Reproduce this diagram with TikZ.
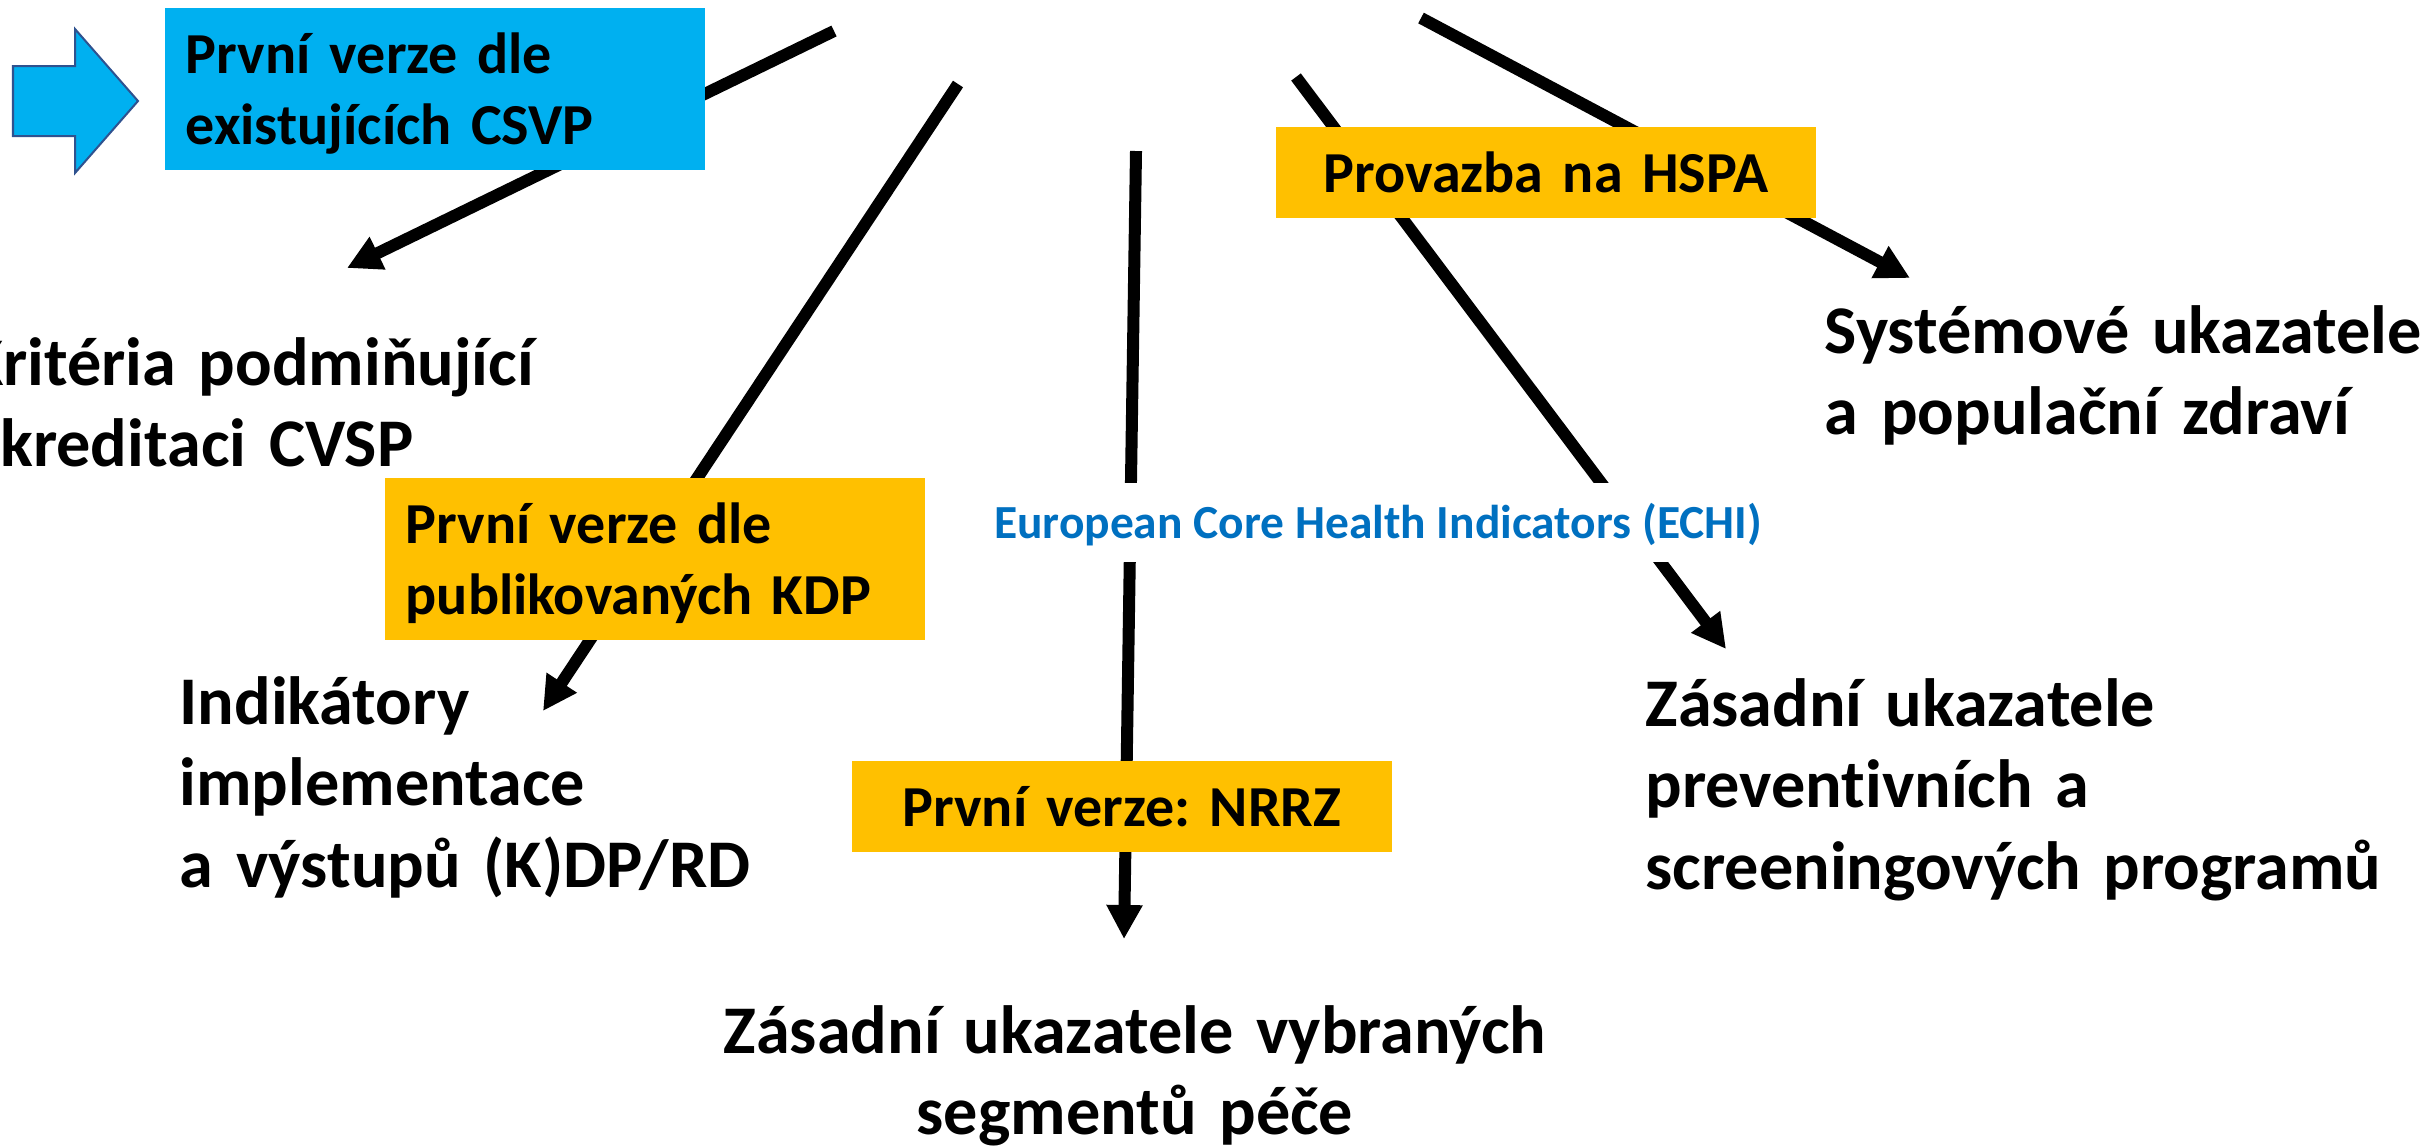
\documentclass[tikz,border=0pt]{standalone}
\usepackage{fontspec}
\setmainfont{Carlito}[Ligatures={NoCommon,NoContextual}, Contextuals=NoAlternate]
\usetikzlibrary{arrows.meta}
\frenchspacing

\definecolor{boxcyan}{RGB}{0,176,240}
\definecolor{boxyellow}{RGB}{255,192,0}
\definecolor{echiblue}{RGB}{0,112,192}
\definecolor{arrowrim}{RGB}{47,82,143}

\begin{document}
\begin{tikzpicture}[
    x=0.01cm, y=-0.01cm,
    connector/.style={
        line width=0.12cm,
        -{Triangle[length=0.34cm, width=0.34cm]},
    },
    heading/.style={
        anchor=base west,
        inner sep=0pt,
        text width=8cm,
        align=left,
        font=\fontsize{19.4}{23.3}\selectfont\bfseries,
    },
    tag/.style={
        anchor=base west,
        inner xsep=0.21cm,
        inner ysep=0pt,
        text width=4.98cm,
        text height=0.65cm,
        font=\fontsize{16.5}{20.2}\selectfont\bfseries,
    },
    twoline/.style={text depth=0.97cm, align=left},
    oneline/.style={text depth=0.26cm, align=center},
    echi/.style={
        anchor=base,
        fill=white,
        inner xsep=0.1cm,
        inner ysep=0pt,
        text height=0.55cm,
        text depth=0.24cm,
        text=echiblue,
        font=\fontsize{13.5}{16}\selectfont\bfseries,
    }
]
    \useasboundingbox (0,0) rectangle (2428,1147);
    \clip (0,0) rectangle (2428,1147);

    % Blue block arrow
    \draw[fill=boxcyan, draw=arrowrim, line width=0.02cm]
        (13,66) -- (75,66) -- (75,29) -- (138,101) -- (75,173) -- (75,136) -- (13,136) -- cycle;

    % Connector ends
    \coordinate (kritfrom) at (834,31);
    \coordinate (kritto) at (347,268);
    \coordinate (indikfrom) at (958,84);
    \coordinate (indikto) at (543,711);
    \coordinate (segmfrom) at (1136,151);
    \coordinate (segmto) at (1124,939);
    \coordinate (prevfrom) at (1296,77);
    \coordinate (prevto) at (1726,649);
    \coordinate (systfrom) at (1421,18);
    \coordinate (systto) at (1910,278);

    % Connectors
    \draw[connector] (kritfrom) -- (kritto);
    \draw[connector] (indikfrom) -- (indikto);
    \draw[connector] (segmfrom) -- (segmto);
    \draw[connector] (prevfrom) -- (prevto);
    \draw[connector] (systfrom) -- (systto);

    % ECHI label
    \node[echi] (echilabel) at (1378,538) {European Core Health Indicators (ECHI)};

    % Tags
    \node[tag, twoline, fill=boxcyan] (csvptag) at (164,73) {První verze dle\\existujících CSVP};
    \node[tag, twoline, fill=boxyellow] (kdptag) at (384,543) {První verze dle\\publikovaných KDP};
    \node[tag, oneline, fill=boxyellow] (hspatag) at (1275,192) {Provazba na HSPA};
    \node[tag, oneline, fill=boxyellow] (nrrztag) at (851,826) {První verze: NRRZ};

    % Indicator groups
    \node[heading] (krit) at (-34,385) {Kritéria podmiňující\\akreditaci CVSP};
    \node[heading] (indik) at (179,724) {Indikátory\\implementace\\a výstupů (K)DP/RD};
    \node[heading] (syst) at (1824,353) {Systémové ukazatele\\a populační zdraví};
    \node[heading] (prev) at (1645,726) {Zásadní ukazatele\\preventivních a\\screeningových programů};
    \node[heading, anchor=base, align=center, text width=9cm] (segm) at (1135,1053) {Zásadní ukazatele vybraných\\segmentů péče};
\end{tikzpicture}
\end{document}
